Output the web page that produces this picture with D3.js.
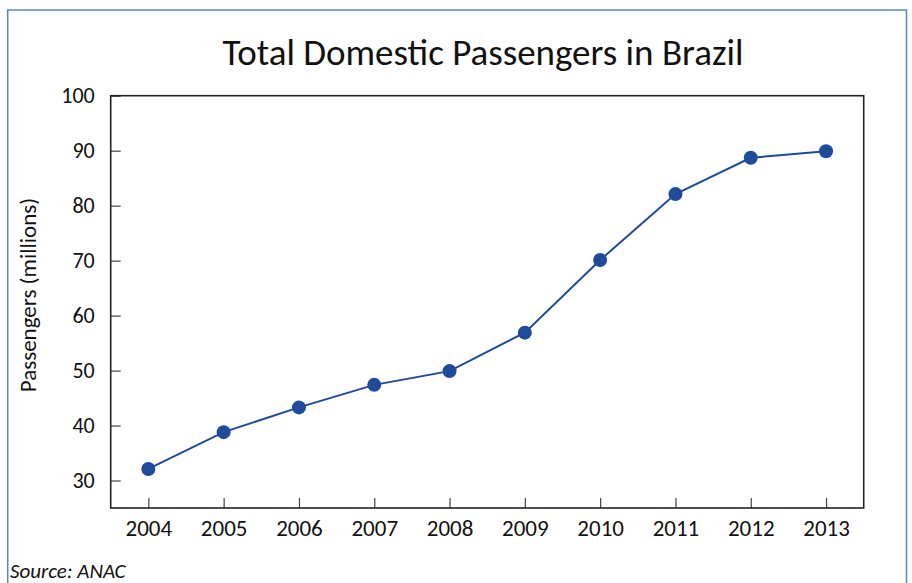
<!DOCTYPE html>
<html>
<head>
<meta charset="utf-8">
<script src="https://cdn.jsdelivr.net/npm/d3@7"></script>
<style>
  body { margin: 0; background: #fff; }
  svg { display: block; font-family: Carlito, Lato, sans-serif; }
</style>
</head>
<body>
<svg id="chart" width="912" height="583"></svg>
<script>
const years = ['2004', '2005', '2006', '2007', '2008', '2009', '2010', '2011', '2012', '2013']
const passengers = [32.1, 38.8, 43.3, 47.4, 49.9, 56.9, 70.1, 82.1, 88.7, 89.9]
const yTicks = [30, 40, 50, 60, 70, 80, 90, 100]

const svg = d3.select('#chart')
const plot = { left: 110.7, right: 863.7, top: 95.7, bottom: 508 }
const blue = '#1f4b99'

// outer frame (open at the bottom, picture is cut there)
svg.append('path')
  .attr('d', 'M7.7,583 V10 H906.5 V583')
  .attr('fill', 'none')
  .attr('stroke', '#5a86b8')
  .attr('stroke-width', 1.5)

const xScale = d3.scalePoint()
  .domain(years)
  .range([plot.left, plot.right])
  .padding(0.5)

const yScale = d3.scaleLinear()
  .domain([25, 100])
  .range([plot.bottom, plot.top])

const yAxis = d3.axisLeft(yScale)
  .tickValues(yTicks)
  .tickSize(-10)
  .tickPadding(16)
  .tickFormat(d3.format('d'))

const xAxis = d3.axisBottom(xScale)
  .tickSize(-10)
  .tickPadding(12)

svg.append('g')
  .attr('transform', `translate(${plot.left},0)`)
  .call(yAxis)
  .call(g => {
    g.select('.domain').remove()
    g.selectAll('.tick line').attr('stroke', '#444').attr('stroke-width', 1.2)
    g.selectAll('.tick text').attr('fill', '#111').style('font-size', '22px')
      .style('font-family', 'Carlito, Lato, sans-serif')
  })

svg.append('g')
  .attr('transform', `translate(0,${plot.bottom})`)
  .call(xAxis)
  .call(g => {
    g.select('.domain').remove()
    g.selectAll('.tick line').attr('stroke', '#444').attr('stroke-width', 1.2)
    g.selectAll('.tick text').attr('fill', '#111').style('font-size', '23px')
      .style('font-family', 'Carlito, Lato, sans-serif')
  })

// plot box
svg.append('rect')
  .attr('x', plot.left)
  .attr('y', plot.top)
  .attr('width', plot.right - plot.left)
  .attr('height', plot.bottom - plot.top)
  .attr('fill', 'none')
  .attr('stroke', '#222')
  .attr('stroke-width', 1.6)

const data = years.map((y, i) => ({ year: y, value: passengers[i] }))

const line = d3.line()
  .x(d => xScale(d.year))
  .y(d => yScale(d.value))

svg.append('path')
  .datum(data)
  .attr('d', line)
  .attr('fill', 'none')
  .attr('stroke', blue)
  .attr('stroke-width', 2)

svg.selectAll('.dot')
  .data(data)
  .enter().append('circle')
  .attr('class', 'dot')
  .attr('cx', d => xScale(d.year))
  .attr('cy', d => yScale(d.value))
  .attr('r', 7)
  .attr('fill', blue)

svg.append('text')
  .attr('x', 483)
  .attr('y', 65)
  .attr('text-anchor', 'middle')
  .style('font-size', '37px')
  .attr('fill', '#111')
  .text('Total Domestic Passengers in Brazil')

svg.append('text')
  .attr('transform', 'translate(36,295) rotate(-90)')
  .attr('text-anchor', 'middle')
  .style('font-size', '23px')
  .attr('fill', '#111')
  .text('Passengers (millions)')

svg.append('text')
  .attr('x', 10)
  .attr('y', 578)
  .style('font-size', '21px')
  .style('font-style', 'italic')
  .attr('fill', '#111')
  .text('Source: ANAC')
</script>
</body>
</html>
